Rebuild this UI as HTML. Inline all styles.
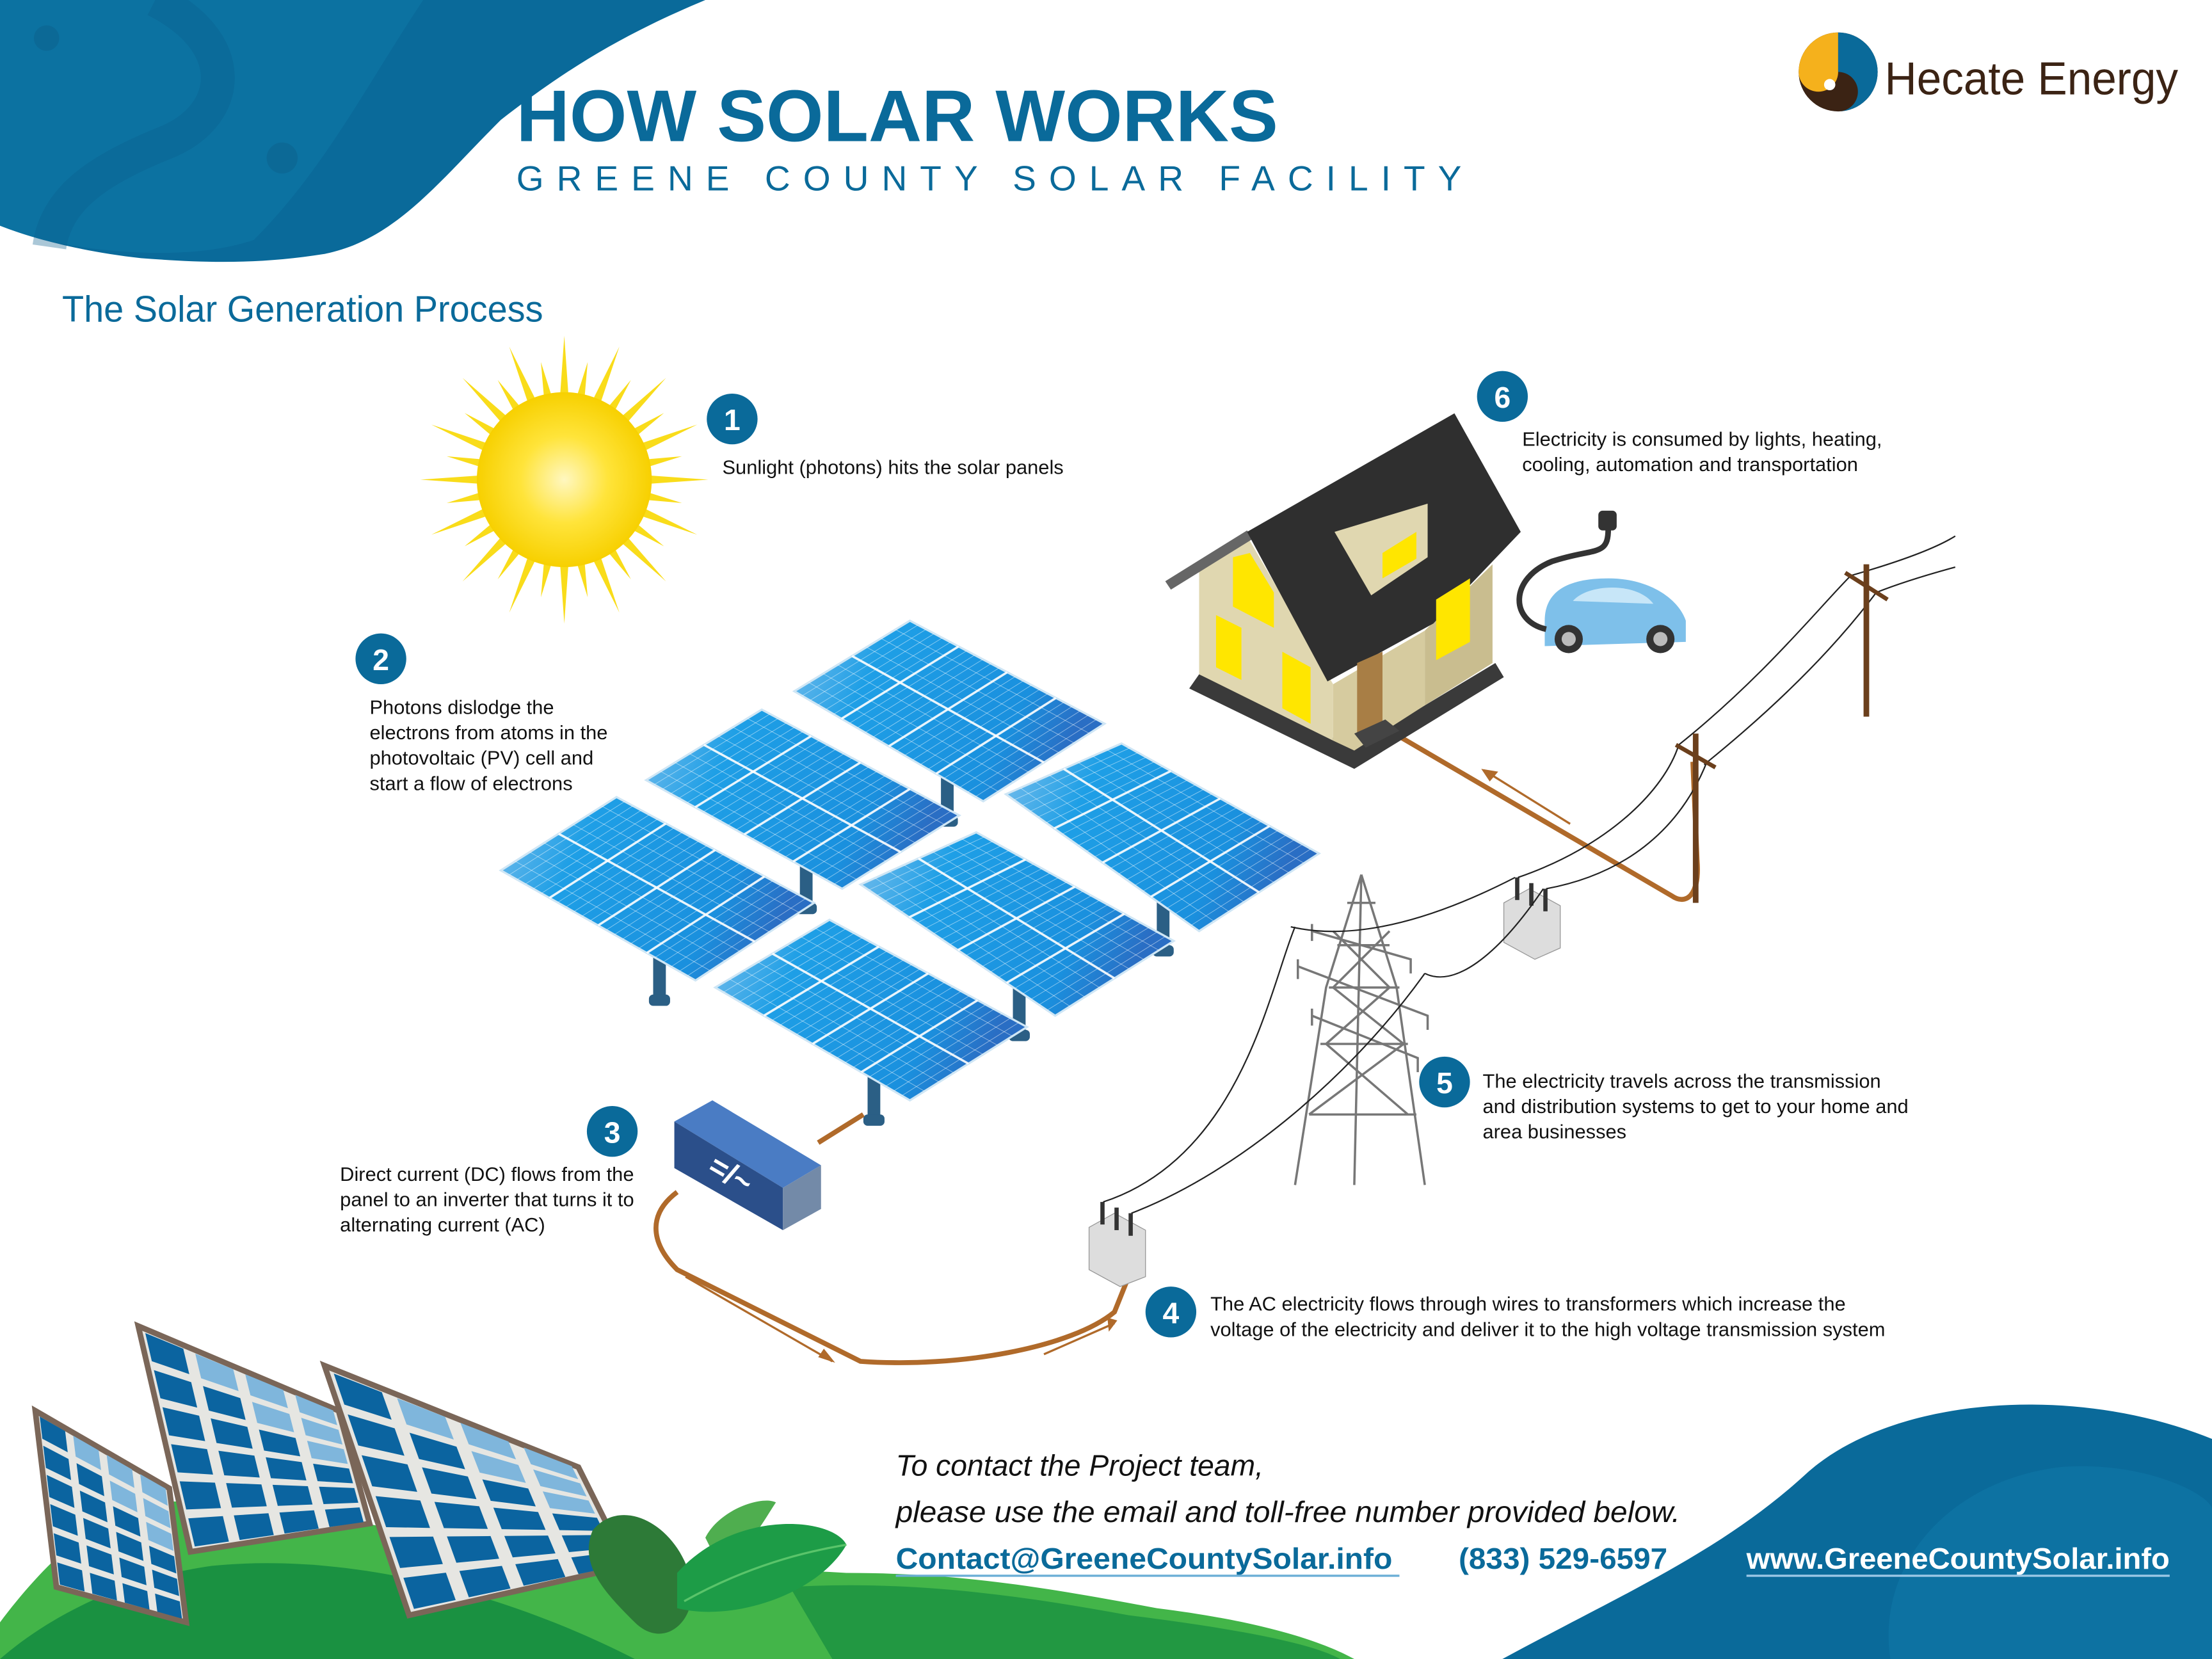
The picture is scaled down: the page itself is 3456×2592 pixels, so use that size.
<!DOCTYPE html>
<html><head><meta charset="utf-8"><style>
html,body{margin:0;padding:0;background:#fff;}
svg{display:block}
text{font-family:"Liberation Sans",sans-serif}
</style></head><body>
<svg id="s" width="3456" height="2592" viewBox="0 0 1568 1176" xmlns="http://www.w3.org/2000/svg">
<defs>
<radialGradient id="sun" cx="50%" cy="50%" r="50%"><stop offset="0" stop-color="#fff7c0"/><stop offset="0.5" stop-color="#ffe43a"/><stop offset="1" stop-color="#f7d000"/></radialGradient>
<linearGradient id="pg" x1="0" y1="0" x2="1" y2="0.3"><stop offset="0" stop-color="#7fc0ec"/><stop offset="0.3" stop-color="#1e9fe6"/><stop offset="0.8" stop-color="#1a90de"/><stop offset="1" stop-color="#2a6ec4"/></linearGradient>
</defs>
<path d="M0 0 H500 C440 25 400 50 355 85 C310 130 280 170 230 180 C180 188 140 186 100 183 C55 178 20 168 0 160 Z" fill="#0a6a9a"/>
<path d="M0 0 H300 C260 60 230 120 180 170 C140 184 80 180 40 172 C20 168 0 160 0 160 Z" fill="#0f78a8" opacity=".55"/>
<circle cx="200" cy="112" r="11" fill="#0b5f8c" opacity=".5"/>
<circle cx="33" cy="27" r="9" fill="#0b5f8c" opacity=".5"/>
<path d="M110 0 C170 30 165 80 120 100 C70 120 40 140 35 175" stroke="#0b5f8c" stroke-width="24" fill="none" opacity=".35"/>
<path d="M1065 1176 C1150 1130 1220 1100 1280 1045 C1340 990 1470 980 1568 1020 V1176 Z" fill="#0a6a9a"/>
<path d="M1340 1176 C1330 1110 1380 1050 1460 1040 C1520 1035 1568 1060 1568 1070 V1176Z" fill="#0f78a8" opacity=".6"/>
<path d="M0 1150 C30 1110 70 1070 110 1065 C180 1060 260 1080 330 1095 C420 1110 520 1110 600 1115 C680 1115 740 1125 820 1140 C900 1150 940 1165 960 1176 H0 Z" fill="#43b549"/>
<path d="M0 1176 C30 1150 80 1120 150 1110 C250 1100 360 1130 450 1176Z" fill="#1a9141"/>
<path d="M560 1125 C640 1120 720 1130 800 1145 C880 1155 930 1165 950 1176 H590 Z" fill="#1a9141" opacity=".8"/>
<g id="bp"></g>
<path d="M420 1085 C440 1060 480 1080 490 1120 C495 1150 470 1170 450 1150 C430 1130 410 1110 420 1085Z" fill="#2d7a37"/>
<path d="M500 1090 C510 1070 540 1060 550 1065 C540 1080 530 1100 510 1110Z" fill="#4fae4f"/>
<path d="M480 1115 C520 1070 590 1075 600 1095 C580 1130 520 1150 480 1140Z" fill="#1d9c47"/>
<path d="M485 1135 C530 1110 570 1100 600 1095" stroke="#5ac46a" stroke-width="1.5" fill="none"/>

<text x="366" y="100" font-size="52" font-weight="bold" fill="#0a6a9a" textLength="540" lengthAdjust="spacingAndGlyphs">HOW SOLAR WORKS</text>
<text x="366" y="135" font-size="25" fill="#0a6a9a" textLength="670" lengthAdjust="spacing">GREENE COUNTY SOLAR FACILITY</text>
<text x="44" y="228" font-size="26" fill="#0a6a9a" textLength="341" lengthAdjust="spacingAndGlyphs">The Solar Generation Process</text>
<circle cx="1303" cy="51" r="28" fill="#3b2314"/>
<path d="M1303 23 A28 28 0 0 0 1275 51 A14 14 0 0 0 1303 51 Z" fill="#f5b11c"/>
<path d="M1303 23 A28 28 0 0 1 1331 51 A28 28 0 0 1 1303 79 A14 14 0 0 0 1303 51Z" fill="#0a6a9a"/>
<circle cx="1297" cy="60" r="4" fill="#fff"/>
<text x="1336" y="67" font-size="33" fill="#3b2314" textLength="208" lengthAdjust="spacingAndGlyphs">Hecate Energy</text>

<g id="sunrays"></g>
<circle cx="400" cy="340" r="62" fill="url(#sun)"/>
<g id="arr"></g>

<path d="M612 790 L580 810 M480 845 C460 860 460 880 480 900 L610 965 C680 970 760 955 790 930 L800 905" stroke="#b06a2a" stroke-width="3.5" fill="none"/>
<path d="M486 905 L590 965 M740 960 L790 938" stroke="#b06a2a" stroke-width="1.5" fill="none"/>
<path d="M580 962 L592 966 L584 956Z M785 934 L792 936 L786 944Z" fill="#b06a2a"/>
<path d="M985 518 L1185 635 C1195 642 1205 635 1203 610 L1200 540" stroke="#b06a2a" stroke-width="3.5" fill="none"/>
<path d="M1113 584 L1052 546" stroke="#b06a2a" stroke-width="1.5"/>
<path d="M1050 545 L1062 547 L1056 554Z" fill="#b06a2a"/>

<polygon points="478,795 505,780 582,826 555,842" fill="#4a7cc4"/>
<polygon points="478,795 555,842 555,872 478,828" fill="#2b4f8a"/>
<polygon points="555,842 582,826 582,857 555,872" fill="#738aa8"/>
<text x="503" y="838" font-size="22" fill="#fff" font-weight="bold" transform="rotate(30 515 830)">=/~</text>

<g><polygon points="772,870 790,860 812,872 812,905 794,912 772,900" fill="#ddd" stroke="#999" stroke-width=".6"/>
<rect x="780" y="852" width="3" height="16" fill="#333"/><rect x="790" y="856" width="3" height="16" fill="#333"/><rect x="800" y="860" width="3" height="16" fill="#333"/></g>
<g><polygon points="1066,640 1084,630 1106,642 1106,672 1088,680 1066,668" fill="#ddd" stroke="#999" stroke-width=".6"/>
<rect x="1074" y="622" width="3" height="16" fill="#333"/><rect x="1084" y="626" width="3" height="16" fill="#333"/><rect x="1094" y="630" width="3" height="16" fill="#333"/></g>

<g stroke="#777" stroke-width="1.6" fill="none">
<path d="M965 620 L940 700 L918 840 M965 620 L990 700 L1010 840 M965 620 L960 840"/>
<path d="M955 640 L975 640 M948 670 L985 670 M942 700 L992 700 M936 740 L998 740 M928 790 L1004 790 M945 660 L985 700 L940 740 L998 790 L935 790 M985 660 L945 700 L995 740 L928 790"/>
<path d="M930 660 L1000 680 L1000 690 M920 685 L1012 720 L1012 730 M930 720 L1005 750 L1005 760"/>
<path d="M930 655 v12 M920 680 v14 M930 715 v12"/>
</g>
<g stroke="#222" stroke-width="1" fill="none">
<path d="M782 852 C880 820 900 700 918 657"/>
<path d="M802 860 C880 830 960 760 1010 690"/>
<path d="M915 657 C950 665 1000 660 1074 622"/>
<path d="M1010 690 C1030 700 1060 680 1094 630"/>
<path d="M1076 622 C1140 600 1180 560 1190 528 M1096 630 C1150 620 1190 590 1210 540"/>
<path d="M1190 528 C1250 480 1290 430 1312 408 M1208 542 C1260 500 1300 460 1330 420"/>
<path d="M1312 408 C1340 400 1370 390 1386 380 M1330 420 C1350 412 1375 405 1386 402"/>
</g>
<rect x="1200" y="520" width="4" height="120" fill="#6b3f1c"/>
<path d="M1188 528 L1216 544" stroke="#6b3f1c" stroke-width="3"/>
<rect x="1321" y="400" width="4" height="108" fill="#6b3f1c"/>
<path d="M1308 406 L1338 425" stroke="#6b3f1c" stroke-width="3"/>

<polygon points="843,488 960,545 1066,480 1060,470 960,530 850,478" fill="#3a3a3a"/>
<polygon points="850,401 884,380 945,485 945,525 850,478" fill="#e0d7b0"/>
<polygon points="945,485 1010,447 1010,500 960,532 945,525" fill="#d6cb9f"/>
<polygon points="1010,447 1058,400 1058,470 1010,500" fill="#c9bd8f"/>
<polygon points="826,412 884,376 888,382 830,418" fill="#666"/>
<polygon points="884,377 1031,293 1078,377 1016,442 941,483" fill="#2f2f2f"/>
<polygon points="946,377 1012,357 1012,395 972,422" fill="#e0d7b0"/>
<polygon points="980,392 1004,377 1004,396 980,410" fill="#ffe600"/>
<polygon points="862,436 880,445 880,482 862,473" fill="#ffe600"/>
<polygon points="909,462 929,473 929,513 909,502" fill="#ffe600"/>
<polygon points="874,395 886,392 903,420 903,445 874,430" fill="#ffe600"/>
<polygon points="1018,425 1042,410 1042,455 1018,468" fill="#ffe600"/>
<polygon points="962,470 980,462 980,512 962,520" fill="#a87e45"/>
<polygon points="960,520 982,510 992,518 968,530" fill="#444"/>
<path d="M1095 440 C1095 420 1110 410 1140 410 C1170 410 1190 425 1195 440 L1195 455 L1095 458Z" fill="#7ec0ea"/>
<path d="M1115 426 C1125 414 1160 412 1172 428 Z" fill="#c7e6f8"/>
<circle cx="1112" cy="453" r="10" fill="#333"/><circle cx="1112" cy="453" r="5" fill="#bbb"/>
<circle cx="1177" cy="453" r="10" fill="#333"/><circle cx="1177" cy="453" r="5" fill="#bbb"/>
<path d="M1096 446 C1070 440 1070 410 1100 398 C1130 388 1140 395 1140 375" stroke="#333" stroke-width="4" fill="none"/>
<rect x="1133" y="362" width="13" height="14" rx="3" fill="#333"/>

<g fill="#0a6a9a">
<circle cx="519" cy="297" r="18"/><circle cx="270" cy="467" r="18"/><circle cx="434" cy="802" r="18"/>
<circle cx="830" cy="930" r="18"/><circle cx="1024" cy="767" r="18"/><circle cx="1065" cy="281" r="18"/>
</g>
<g fill="#fff" font-size="21" font-weight="bold" text-anchor="middle">
<text x="519" y="305">1</text><text x="270" y="475">2</text><text x="434" y="810">3</text>
<text x="830" y="938">4</text><text x="1024" y="775">5</text><text x="1065" y="289">6</text>
</g>
<g font-size="14" fill="#111">
<text x="512" y="336">Sunlight (photons) hits the solar panels</text>
<text x="262" y="506">Photons dislodge the</text><text x="262" y="524">electrons from atoms in the</text>
<text x="262" y="542">photovoltaic (PV) cell and</text><text x="262" y="560">start a flow of electrons</text>
<text x="241" y="837">Direct current (DC) flows from the</text><text x="241" y="855">panel to an inverter that turns it to</text><text x="241" y="873">alternating current (AC)</text>
<text x="858" y="929">The AC electricity flows through wires to transformers which increase the</text>
<text x="858" y="947">voltage of the electricity and deliver it to the high voltage transmission system</text>
<text x="1051" y="771">The electricity travels across the transmission</text><text x="1051" y="789">and distribution systems to get to your home and</text><text x="1051" y="807">area businesses</text>
<text x="1079" y="316">Electricity is consumed by lights, heating,</text><text x="1079" y="334">cooling, automation and transportation</text>
</g>
<g font-size="21" font-style="italic" fill="#111">
<text x="635" y="1046">To contact the Project team,</text>
<text x="635" y="1079" textLength="556" lengthAdjust="spacingAndGlyphs">please use the email and toll-free number provided below.</text>
</g>
<text x="635" y="1112" font-size="21" font-weight="bold" fill="#0a6a9a" textLength="352" lengthAdjust="spacingAndGlyphs">Contact@GreeneCountySolar.info</text>
<line x1="635" y1="1117" x2="992" y2="1117" stroke="#6aaed6" stroke-width="1.5"/>
<text x="1034" y="1112" font-size="21" font-weight="bold" fill="#0a6a9a" textLength="148" lengthAdjust="spacingAndGlyphs">(833) 529-6597</text>
<text x="1238" y="1112" font-size="21" font-weight="bold" fill="#fff" textLength="300" lengthAdjust="spacingAndGlyphs">www.GreeneCountySolar.info</text>
<line x1="1238" y1="1117" x2="1538" y2="1117" stroke="#9cc8e6" stroke-width="1.5"/>
</svg>
<script>
var NS="http://www.w3.org/2000/svg";
function el(p,t,a){var e=document.createElementNS(NS,t);for(var k in a)e.setAttribute(k,a[k]);p.appendChild(e);return e;}
var sr=document.getElementById('sunrays');
for(var i=0;i<32;i++){var a=i*Math.PI*2/32,L=(i%2?85:102),w=0.06;
var cx=400,cy=340;
var p=[cx+Math.cos(a-w)*55,cy+Math.sin(a-w)*55,cx+Math.cos(a)*L,cy+Math.sin(a)*L,cx+Math.cos(a+w)*55,cy+Math.sin(a+w)*55];
el(sr,'polygon',{points:p.join(','),fill:'#f9dc1a'});}
var arrs=[[563,490,645,440,783,513,697,568],[458,553,540,503,680,578,597,630],[355,617,437,565,577,640,493,695],
[713,563,795,527,935,605,850,660],[610,627,692,590,832,667,748,720],[507,700,588,652,728,728,645,780]];
var g=document.getElementById('arr');
arrs.forEach(function(c){
 el(g,'rect',{x:c[6]-30,y:c[7]-30,width:9,height:45,fill:'#2b5f85'});
 el(g,'rect',{x:c[6]-33,y:c[7]+10,width:15,height:8,rx:3,fill:'#2b5f85'});
});
arrs.forEach(function(c){
 el(g,'polygon',{points:c.join(','),fill:'url(#pg)',stroke:'#cfe6f5','stroke-width':1.5});
 function lerp(x1,y1,x2,y2,t){return [x1+(x2-x1)*t,y1+(y2-y1)*t];}
 for(var i=1;i<24;i++){var t=i/24;var a=lerp(c[0],c[1],c[6],c[7],t),b=lerp(c[2],c[3],c[4],c[5],t);
  el(g,'line',{x1:a[0],y1:a[1],x2:b[0],y2:b[1],stroke:'#ffffff','stroke-width':(i%6==0?1.6:0.4),opacity:(i%6==0?0.9:0.5)});}
 for(var i=1;i<8;i++){var t=i/8;var a=lerp(c[0],c[1],c[2],c[3],t),b=lerp(c[6],c[7],c[4],c[5],t);
  el(g,'line',{x1:a[0],y1:a[1],x2:b[0],y2:b[1],stroke:'#ffffff','stroke-width':(i%4==0?1.6:0.4),opacity:(i%4==0?0.9:0.5)});}
});
var bp=document.getElementById('bp');
var bps=[[25,1000,120,1055,132,1150,40,1125],[98,940,240,1000,262,1080,135,1100],[230,968,410,1040,445,1110,290,1145]];
bps.forEach(function(c){
 el(bp,'polygon',{points:c.join(','),fill:'#e6e6e2',stroke:'#7a6658','stroke-width':4});
 var cols=4,rows=6;
 function P(u,v){
  var tx=c[0]+(c[2]-c[0])*u, ty=c[1]+(c[3]-c[1])*u;
  var bx=c[6]+(c[4]-c[6])*u, by=c[7]+(c[5]-c[7])*u;
  return [tx+(bx-tx)*v, ty+(by-ty)*v];}
 for(var r=0;r<rows;r++)for(var k=0;k<cols;k++){
  var m=0.12,u0=k/cols+m/cols,u1=(k+1)/cols-m/cols,v0=r/rows+m/rows,v1=(r+1)/rows-m/rows;
  var pts=[P(u0,v0),P(u1,v0),P(u1,v1),P(u0,v1)];
  el(bp,'polygon',{points:pts.join(' '),fill:(k-r>=1)?'#7fb6dc':'#0b64a0'});
 }
});
</script>
</body></html>
